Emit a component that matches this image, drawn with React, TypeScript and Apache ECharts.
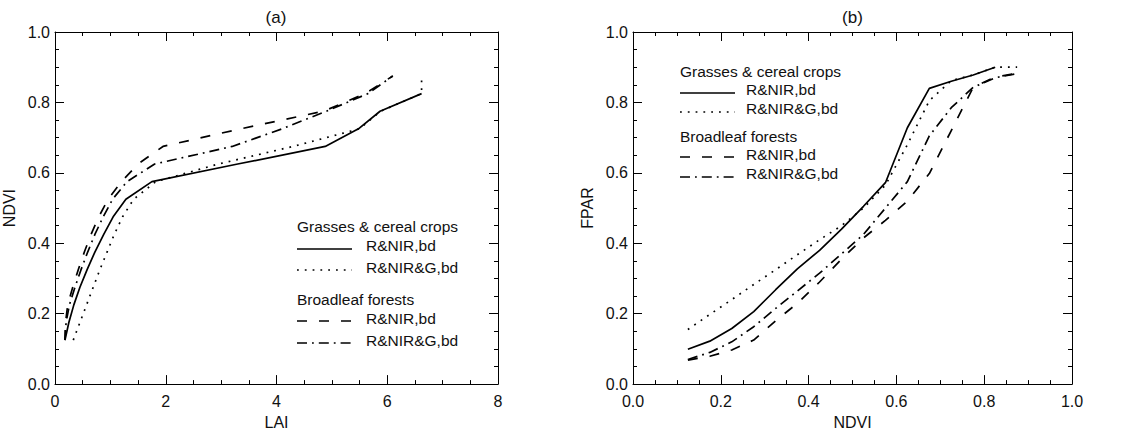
import { useEffect, useRef } from 'react';
import * as echarts from 'echarts';

const FONT = '"Liberation Sans", Arial, Helvetica, sans-serif';
const INK = '#111111';

// Panel (a): NDVI levels and the LAI at which each curve reaches them
const ndviLevelsA = [0.125, 0.175, 0.225, 0.275, 0.325, 0.375, 0.425, 0.475, 0.525, 0.575, 0.625, 0.675, 0.725, 0.775, 0.825, 0.875];
const laiGrassRN = [0.18, 0.25, 0.34, 0.45, 0.58, 0.72, 0.88, 1.05, 1.28, 1.75, 3.3, 4.88, 5.48, 5.87, 6.62, null];
const laiGrassRNG = [0.33, 0.45, 0.57, 0.69, 0.81, 0.94, 1.07, 1.22, 1.42, 1.82, 2.95, 4.3, 5.5, 5.88, 6.62, 6.62];
const laiBroadRN = [0.18, 0.19, 0.23, 0.32, 0.42, 0.53, 0.65, 0.79, 0.96, 1.2, 1.5, 1.95, 3.35, 4.85, 5.6, 6.1];
const laiBroadRNG = [0.18, 0.2, 0.26, 0.36, 0.47, 0.59, 0.72, 0.87, 1.04, 1.3, 1.8, 3.2, 4.1, 4.9, 5.65, 6.1];

// Panel (b): NDVI bins and FPAR
const ndviB = [0.125, 0.175, 0.225, 0.275, 0.325, 0.375, 0.425, 0.475, 0.525, 0.575, 0.625, 0.675, 0.725, 0.775, 0.825, 0.875];
const fparGrassRN = [0.099, 0.122, 0.158, 0.206, 0.268, 0.328, 0.38, 0.44, 0.505, 0.572, 0.728, 0.84, 0.86, 0.878, 0.9, null];
const fparGrassRNG = [0.155, 0.198, 0.24, 0.283, 0.325, 0.368, 0.41, 0.45, 0.5, 0.565, 0.68, 0.805, 0.862, 0.878, 0.9, 0.9];
const fparBroadRN = [0.068, 0.079, 0.097, 0.125, 0.18, 0.23, 0.29, 0.355, 0.415, 0.465, 0.52, 0.598, 0.72, 0.843, 0.872, 0.883];
const fparBroadRNG = [0.07, 0.09, 0.12, 0.163, 0.215, 0.265, 0.315, 0.37, 0.425, 0.5, 0.575, 0.705, 0.785, 0.843, 0.87, 0.882];

const groupGrass = 'Grasses & cereal crops';
const groupBroad = 'Broadleaf forests';
const nameRN = 'R&NIR,bd';
const nameRNG = 'R&NIR&G,bd';

const DASH_SOLID: any = 'solid';
const DASH_DOT: any = [1.8, 6];
const DASH_DASH: any = [10, 12];
const DASH_DASHDOT: any = [10, 5, 1.8, 5];
const LW = 1.7;

const GRID_A = { left: 54, top: 32, width: 444, height: 368 };
const GRID_B = { left: 633, top: 32, width: 439, height: 368 };

function xAxis(gridIndex: number, min: number, max: number, interval: number, position: string, show: boolean, name: string, fmt: (v: number) => string) {
  return {
    type: 'value', gridIndex, min, max, interval, position,
    name: show ? name : '',
    nameLocation: 'middle', nameGap: 28,
    nameTextStyle: { color: INK, fontSize: 16, fontFamily: FONT },
    axisLine: { show: true, onZero: false, lineStyle: { color: '#000', width: 1 } },
    axisTick: { show: true, inside: true, length: 9, lineStyle: { color: '#000', width: 1 } },
    minorTick: { show: true, splitNumber: 4, length: 4, lineStyle: { color: '#000', width: 1 } },
    axisLabel: { show, color: INK, fontSize: 16, fontFamily: FONT, margin: 9, formatter: fmt },
    splitLine: { show: false },
  };
}
function yAxis(gridIndex: number, position: string, show: boolean, name: string) {
  return {
    type: 'value', gridIndex, min: 0, max: 1, interval: 0.2, position,
    name: show ? name : '',
    nameLocation: 'middle', nameGap: 38,
    nameTextStyle: { color: INK, fontSize: 16, fontFamily: FONT },
    axisLine: { show: true, onZero: false, lineStyle: { color: '#000', width: 1 } },
    axisTick: { show: true, inside: true, length: 9, lineStyle: { color: '#000', width: 1 } },
    minorTick: { show: true, splitNumber: 4, length: 4, lineStyle: { color: '#000', width: 1 } },
    axisLabel: { show, color: INK, fontSize: 16, fontFamily: FONT, margin: 5, formatter: (v: number) => v.toFixed(1) },
    splitLine: { show: false },
  };
}

function lineSeries(name: string, data: any[], xi: number, yi: number, dash: any) {
  return {
    name, type: 'line', xAxisIndex: xi, yAxisIndex: yi, data,
    symbol: 'none', connectNulls: false, silent: true,
    lineStyle: { color: '#000', width: LW, type: dash },
  };
}

// ys: heading / text rows; lineYs: the four sample lines
function legendBlock(x: number, lineLen: number, textGap: number, ys: number[], lineYs: number[]) {
  const els: any[] = [];
  const txt = (tx: number, ty: number, s: string) => ({
    type: 'text', x: tx, y: ty,
    style: { text: s, fill: INK, font: `15.5px ${FONT}`, textVerticalAlign: 'middle', textAlign: 'left' },
  });
  const ln = (ly: number, dash: any) => ({
    type: 'line', shape: { x1: x, y1: ly, x2: x + lineLen, y2: ly },
    style: { stroke: '#000', lineWidth: LW, lineDash: dash === 'solid' ? null : dash },
  });
  els.push(txt(x, ys[0], groupGrass));
  els.push(ln(lineYs[0], DASH_SOLID));
  els.push(txt(x + lineLen + textGap, ys[1], nameRN));
  els.push(ln(lineYs[1], DASH_DOT));
  els.push(txt(x + lineLen + textGap, ys[2], nameRNG));
  els.push(txt(x, ys[3], groupBroad));
  els.push(ln(lineYs[2], DASH_DASH));
  els.push(txt(x + lineLen + textGap, ys[4], nameRN));
  els.push(ln(lineYs[3], DASH_DASHDOT));
  els.push(txt(x + lineLen + textGap, ys[5], nameRNG));
  return els;
}

export default function App() {
  const ref = useRef<HTMLDivElement>(null);
  useEffect(() => {
    const chart = echarts.init(ref.current!, null, { renderer: 'svg' });
    const zipA = (lai: (number | null)[]) => lai.map((l, i) => [l, ndviLevelsA[i]]);
    const zipB = (f: (number | null)[]) => f.map((v, i) => [ndviB[i], v]);
    chart.setOption({
      animation: false,
      backgroundColor: '#ffffff',
      grid: [GRID_A, GRID_B],
      xAxis: [
        xAxis(0, 0, 8, 2, 'bottom', true, 'LAI', (v: number) => String(v)),
        xAxis(0, 0, 8, 2, 'top', false, '', (v: number) => String(v)),
        xAxis(1, 0, 1, 0.2, 'bottom', true, 'NDVI', (v: number) => v.toFixed(1)),
        xAxis(1, 0, 1, 0.2, 'top', false, '', (v: number) => v.toFixed(1)),
      ],
      yAxis: [
        yAxis(0, 'left', true, 'NDVI'),
        yAxis(0, 'right', false, ''),
        yAxis(1, 'left', true, 'FPAR'),
        yAxis(1, 'right', false, ''),
      ],
      series: [
        lineSeries(groupGrass + ' ' + nameRN, zipA(laiGrassRN), 0, 0, DASH_SOLID),
        lineSeries(groupGrass + ' ' + nameRNG, zipA(laiGrassRNG), 0, 0, DASH_DOT),
        lineSeries(groupBroad + ' ' + nameRN, zipA(laiBroadRN), 0, 0, DASH_DASH),
        lineSeries(groupBroad + ' ' + nameRNG, zipA(laiBroadRNG), 0, 0, DASH_DASHDOT),
        lineSeries(groupGrass + ' ' + nameRN + ' (b)', zipB(fparGrassRN), 2, 2, DASH_SOLID),
        lineSeries(groupGrass + ' ' + nameRNG + ' (b)', zipB(fparGrassRNG), 2, 2, DASH_DOT),
        lineSeries(groupBroad + ' ' + nameRN + ' (b)', zipB(fparBroadRN), 2, 2, DASH_DASH),
        lineSeries(groupBroad + ' ' + nameRNG + ' (b)', zipB(fparBroadRNG), 2, 2, DASH_DASHDOT),
      ],
      graphic: [
        { type: 'text', x: GRID_A.left + GRID_A.width / 2, y: 17, style: { text: '(a)', fill: INK, font: `17px ${FONT}`, textAlign: 'center', textVerticalAlign: 'middle' } },
        { type: 'text', x: GRID_B.left + GRID_B.width / 2, y: 17, style: { text: '(b)', fill: INK, font: `17px ${FONT}`, textAlign: 'center', textVerticalAlign: 'middle' } },
        ...legendBlock(297, 55, 14, [226, 245, 267, 299, 318, 340], [249, 270, 321, 343]),
        ...legendBlock(680, 55, 11, [71, 89, 108, 136, 154, 173], [93, 112, 157, 177]),
      ],
    });
    return () => chart.dispose();
  }, []);
  return <div ref={ref} style={{ position: 'fixed', left: 0, top: 0, width: 1128, height: 435, background: '#fff' }} />;
}
